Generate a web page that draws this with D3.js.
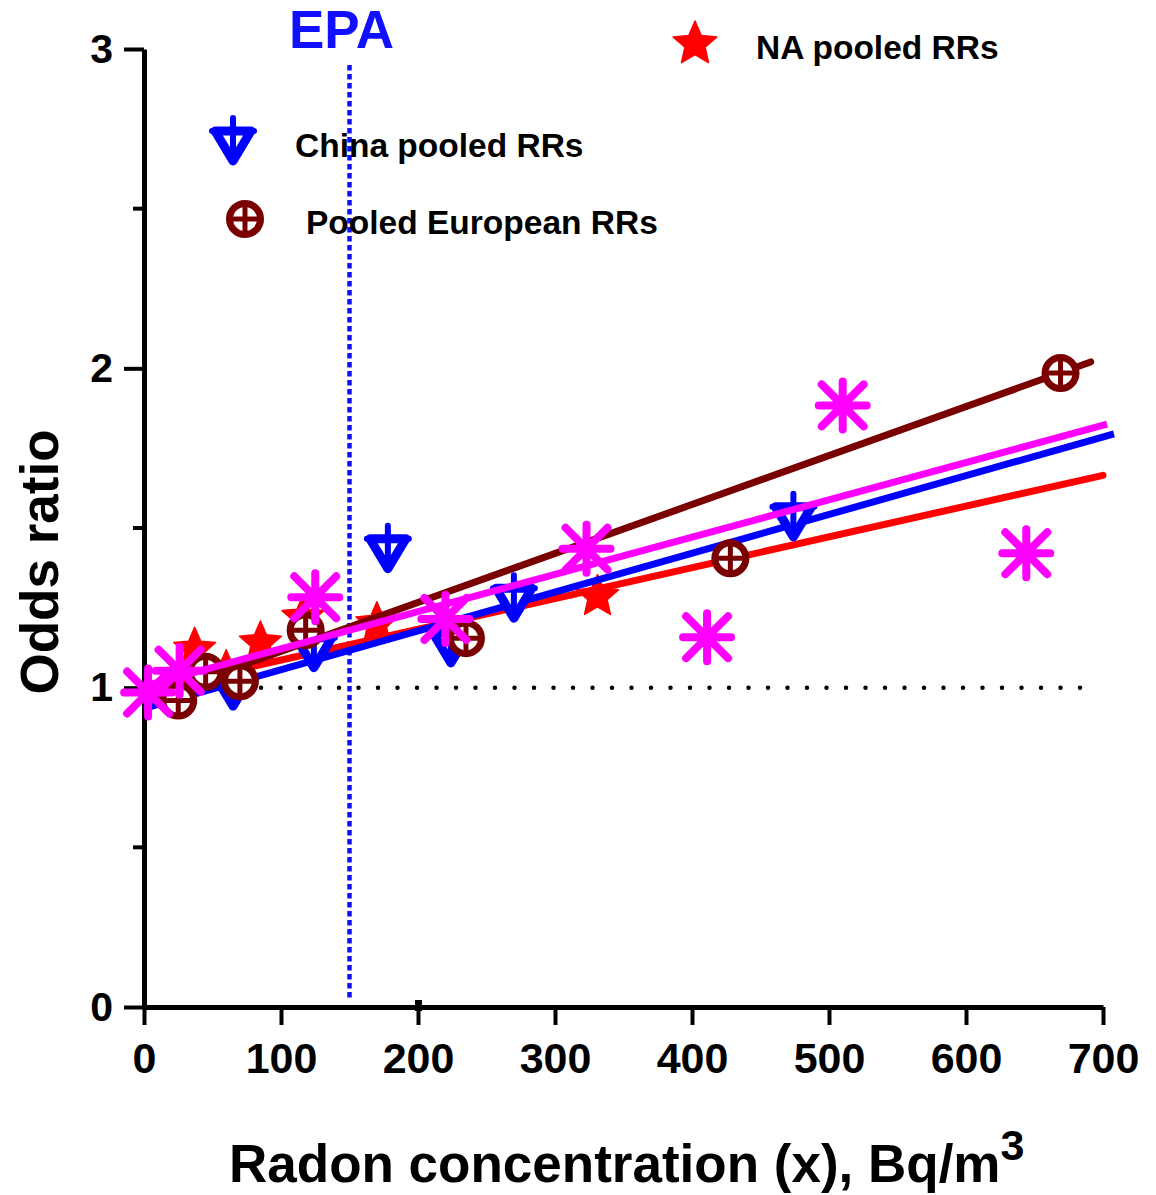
<!DOCTYPE html>
<html lang="en">
<head>
    <meta charset="UTF-8">
    <title>Odds ratio vs radon</title>
    <script src="https://cdn.jsdelivr.net/npm/d3@7/dist/d3.min.js"></script>
    <style>
        body { margin: 0; background: #fff; }
        text { font-family: "Liberation Sans", Arial, sans-serif; font-weight: bold; }
    </style>
</head>
<body>
<div class="chart"></div>
<script>
    // tick values
    const xTicks = [0, 100, 200, 300, 400, 500, 600, 700]
    const yTicks = [0, 1, 2, 3]
    const yMinor = [0.5, 1.5, 2.5]
    const epaLevel = 150

    // NA pooled RRs (red stars)
    const naX = [37, 60, 85, 116, 170, 331]
    const naY = [1.12, 1.05, 1.14, 1.22, 1.2, 1.285]
    const naFitX = [0, 700]
    const naFitY = [0.99, 1.665]

    // China pooled RRs (blue triangles)
    const chinaX = [65, 124, 178, 224, 270, 474]
    const chinaY = [1.005, 1.125, 1.435, 1.14, 1.28, 1.535]
    const chinaFitX = [0, 708]
    const chinaFitY = [0.935, 1.795]

    // Pooled European RRs (maroon circles)
    const euroX = [25, 45, 70, 118, 235, 428, 669]
    const euroY = [0.96, 1.05, 1.02, 1.18, 1.155, 1.405, 1.985]
    const euroFitX = [0, 691]
    const euroFitY = [0.96, 2.02]

    // unlabelled series (magenta asterisks)
    const magX = [3, 26, 125, 220, 323, 411, 510, 644]
    const magY = [0.985, 1.053, 1.283, 1.215, 1.435, 1.158, 1.884, 1.421]
    const magFitX = [0, 703]
    const magFitY = [1.005, 1.825]

    const width = 1156
    const height = 1195
    const svg = d3.select('.chart').append('svg')
        .attr('width', width)
        .attr('height', height)

    const x = d3.scaleLinear().domain([0, 700]).range([144, 1103])
    const y = d3.scaleLinear().domain([0, 3]).range([1007, 49])

    // axes
    const gy = svg.append('g').attr('transform', `translate(${x(0)},0)`)
        .call(d3.axisLeft(y).tickValues(yTicks).tickSize(20).tickSizeOuter(0).tickPadding(11).tickFormat(d3.format('d')))
    gy.append('g').selectAll('line').data(yMinor).join('line')
        .attr('x1', -11).attr('x2', 0)
        .attr('y1', d => y(d)).attr('y2', d => y(d))
        .attr('stroke', '#000').attr('stroke-width', 4)
    const gx = svg.append('g').attr('transform', `translate(0,${y(0)})`)
        .call(d3.axisBottom(x).tickValues(xTicks).tickSize(18).tickSizeOuter(0).tickPadding(17))
    // small stray mark on the axis at 200
    gx.append('rect').attr('x', x(200) - 3).attr('y', -7).attr('width', 7).attr('height', 11).attr('fill', '#000')

    svg.selectAll('.domain').attr('stroke', '#000').attr('stroke-width', 5)
    svg.selectAll('.tick line').attr('stroke', '#000').attr('stroke-width', 4)
    gy.selectAll('.tick text').attr('font-size', 41).attr('fill', '#000')
    gx.selectAll('.tick text').attr('font-size', 43).attr('fill', '#000')

    // reference lines
    svg.append('line')
        .attr('x1', x(0)).attr('x2', x(696))
        .attr('y1', y(1)).attr('y2', y(1))
        .attr('stroke', '#000').attr('stroke-width', 4.5)
        .attr('stroke-linecap', 'round').attr('stroke-dasharray', '0 19.5')
    svg.append('line')
        .attr('x1', x(epaLevel)).attr('x2', x(epaLevel))
        .attr('y1', 65).attr('y2', 1000)
        .attr('stroke', '#1010ff').attr('stroke-width', 4.5)
        .attr('stroke-dasharray', '5.5 3.5')
    svg.append('text').text('EPA')
        .attr('x', x(epaLevel) - 8).attr('y', 48)
        .attr('text-anchor', 'middle').attr('font-size', 53).attr('fill', '#1010ff')

    // marker shapes
    function starPath(R) {
        const pts = d3.range(10).map(i => {
            const r = i % 2 ? R * 0.46 : R
            const a = i * Math.PI / 5
            return [r * Math.sin(a), -r * Math.cos(a)]
        })
        return 'M' + pts.join('L') + 'Z'
    }
    function drawStar(g, R, col) {
        g.append('path').attr('d', starPath(R)).attr('fill', col)
            .attr('stroke', col).attr('stroke-width', 1.5).attr('stroke-linejoin', 'round')
    }
    function drawTri(g, col) {
        g.append('path').attr('d', 'M-18,-10L18,-10L0,20Z')
            .attr('fill', '#fff').attr('stroke', col).attr('stroke-width', 9).attr('stroke-linejoin', 'round')
        g.append('path').attr('d', 'M0,-23L0,20M-21,-10L21,-10')
            .attr('stroke', col).attr('stroke-width', 6).attr('stroke-linecap', 'round')
    }
    function drawCirc(g, col) {
        g.append('circle').attr('r', 15.5).attr('fill', '#fff').attr('stroke', col).attr('stroke-width', 7)
        g.append('path').attr('d', 'M0,-14L0,14M-14,0L14,0').attr('stroke', col).attr('stroke-width', 5)
    }
    function drawAst(g, col) {
        g.append('path').attr('d', 'M-24,0L24,0M0,-24L0,24M-21,-21L21,21M-21,21L21,-21')
            .attr('stroke', col).attr('stroke-width', 8).attr('stroke-linecap', 'round')
    }

    const line = d3.line().x(d => x(d[0])).y(d => y(d[1]))
    function series(xs, ys, fx, fy, col, cap, shape) {
        const g = svg.append('g')
        g.append('path').datum(d3.zip(fx, fy)).attr('d', line)
            .attr('fill', 'none').attr('stroke', col).attr('stroke-width', 7).attr('stroke-linecap', cap)
        g.selectAll('g').data(d3.zip(xs, ys)).join('g')
            .attr('transform', d => `translate(${x(d[0])},${y(d[1])})`)
            .each(function () { shape(d3.select(this), col) })
    }

    series(naX, naY, naFitX, naFitY, '#ff0000', 'round', (g, c) => drawStar(g, 22, c))
    series(chinaX, chinaY, chinaFitX, chinaFitY, '#0000ff', 'butt', drawTri)
    series(euroX, euroY, euroFitX, euroFitY, '#7a0000', 'round', drawCirc)
    series(magX, magY, magFitX, magFitY, '#ff00ff', 'butt', drawAst)

    // legend
    const legend = [
        { label: 'NA pooled RRs', col: '#ff0000', mx: 695, my: 44, tx: 756, ty: 59, kind: 'star' },
        { label: 'China pooled RRs', col: '#0000ff', mx: 233, my: 141, tx: 295, ty: 157, kind: 'tri' },
        { label: 'Pooled European RRs', col: '#7a0000', mx: 245, my: 219, tx: 306, ty: 234, kind: 'circ' }
    ]
    legend.forEach(l => {
        const g = svg.append('g').attr('transform', `translate(${l.mx},${l.my})`)
        if (l.kind === 'star') drawStar(g, 23, l.col)
        if (l.kind === 'tri') drawTri(g, l.col)
        if (l.kind === 'circ') drawCirc(g, l.col)
        svg.append('text').text(l.label).attr('x', l.tx).attr('y', l.ty)
            .attr('font-size', 33.5).attr('fill', '#000')
    })

    // axis titles
    svg.append('text')
        .attr('transform', 'translate(58,562) rotate(-90)')
        .attr('text-anchor', 'middle').attr('font-size', 53).attr('fill', '#000')
        .text('Odds ratio')
    const xt = svg.append('text')
        .attr('x', 229).attr('y', 1182)
        .attr('font-size', 53).attr('fill', '#000')
    xt.append('tspan').text('Radon concentration (x), Bq/m')
    xt.append('tspan').text('3').attr('font-size', 43).attr('dy', -22)
</script>
</body>
</html>
